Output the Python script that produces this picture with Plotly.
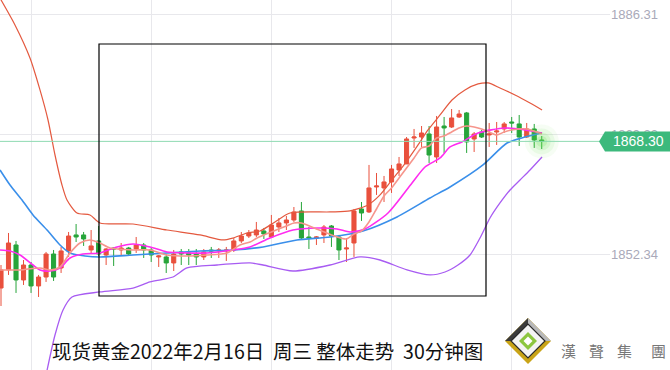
import plotly.graph_objects as go

# ---------------- data ----------------
candle_open = [1847.52, 1850.08, 1853.62, 1848.66, 1850.78, 1847.81, 1849.08, 1852.34, 1850.36, 1852.77,
               1855.04, 1855.04, 1852.91, 1854.19, 1852.20, 1853.19, 1852.91, 1853.19, 1853.05, 1853.62,
               1852.91, 1851.92, 1851.92, 1851.07, 1852.63, 1852.49, 1852.34, 1851.92, 1852.91, 1852.77,
               1852.77, 1852.91, 1854.19, 1854.89, 1855.04, 1855.60, 1854.75, 1856.17, 1856.74, 1857.16,
               1858.44, 1854.75, 1854.61, 1855.04, 1856.31, 1854.75, 1853.05, 1853.90, 1858.72, 1858.30,
               1861.84, 1861.70, 1862.55, 1864.25, 1865.10, 1868.78, 1868.92, 1869.35, 1866.09, 1870.48,
               1870.34, 1871.76, 1872.33, 1868.64, 1869.63, 1869.21, 1869.63, 1870.06, 1871.05, 1870.77,
               1868.92, 1870.06, 1868.50]
candle_high = [1850.78, 1855.32, 1854.19, 1851.49, 1851.21, 1849.37, 1852.63, 1852.91, 1853.34, 1855.46,
               1856.59, 1855.46, 1855.74, 1856.31, 1853.19, 1853.25, 1853.90, 1853.34, 1854.75, 1853.90,
               1853.19, 1852.20, 1852.34, 1852.91, 1853.05, 1853.05, 1853.05, 1853.05, 1853.34, 1853.19,
               1853.34, 1854.61, 1855.46, 1855.74, 1856.88, 1856.03, 1857.87, 1857.44, 1857.73, 1859.00,
               1859.71, 1856.17, 1854.89, 1856.45, 1856.45, 1855.04, 1854.61, 1858.72, 1859.71, 1864.96,
               1863.82, 1863.40, 1864.96, 1866.09, 1868.92, 1870.06, 1870.48, 1870.48, 1871.90, 1871.76,
               1872.89, 1872.75, 1872.47, 1869.63, 1869.92, 1870.91, 1871.05, 1871.05, 1871.76, 1872.04,
               1870.91, 1870.77, 1869.07]
candle_low = [1844.97, 1849.37, 1846.82, 1847.95, 1846.82, 1846.25, 1848.38, 1848.52, 1849.65, 1851.92,
              1854.04, 1853.48, 1852.34, 1852.06, 1850.78, 1850.64, 1852.20, 1852.20, 1852.49, 1851.78,
              1851.21, 1850.50, 1849.65, 1849.93, 1850.78, 1850.78, 1850.78, 1851.49, 1851.78, 1851.78,
              1851.35, 1852.63, 1853.90, 1854.61, 1854.75, 1854.47, 1854.61, 1855.46, 1855.74, 1856.88,
              1854.33, 1853.05, 1853.62, 1853.90, 1853.34, 1851.49, 1851.21, 1851.92, 1857.02, 1858.15,
              1860.71, 1859.71, 1860.99, 1863.40, 1865.10, 1867.37, 1867.51, 1865.24, 1865.24, 1866.66,
              1870.20, 1871.62, 1866.66, 1866.80, 1868.78, 1867.51, 1867.79, 1869.49, 1869.49, 1867.65,
              1868.78, 1867.37, 1867.22]
candle_close = [1850.08, 1853.90, 1848.66, 1850.78, 1847.81, 1849.08, 1852.34, 1849.08, 1852.77, 1854.89,
                1854.75, 1854.47, 1853.48, 1852.34, 1853.05, 1853.05, 1853.19, 1852.34, 1853.62, 1852.91,
                1852.20, 1852.06, 1851.07, 1852.34, 1852.34, 1852.20, 1851.92, 1852.63, 1852.77, 1852.91,
                1852.91, 1854.19, 1854.89, 1855.32, 1855.74, 1855.18, 1856.45, 1856.74, 1857.16, 1858.30,
                1854.61, 1854.61, 1854.75, 1856.17, 1854.89, 1852.91, 1853.19, 1858.44, 1858.15, 1861.70,
                1861.98, 1862.55, 1864.39, 1865.10, 1868.64, 1868.92, 1869.49, 1866.37, 1870.34, 1870.20,
                1871.62, 1872.18, 1868.22, 1869.35, 1868.92, 1869.35, 1869.77, 1870.77, 1870.91, 1868.92,
                1870.06, 1868.50, 1868.30]
candle_idx = list(range(len(candle_close)))

# Bollinger upper band
boll_up_x = [-0.13, 1.86, 3.86, 5.19, 6.26, 7.19, 8.12, 8.79, 10.12, 11.85, 13.18, 17.58, 22.10, 26.50,
             29.56, 30.89, 32.76, 34.49, 36.48, 38.48, 43.81, 46.47, 48.87, 50.47, 52.06, 53.66, 55.26,
             56.86, 58.46, 60.05, 61.78, 63.52, 64.85, 66.44, 68.44, 70.44, 72.04]
boll_up_y = [1888.60, 1884.80, 1880.12, 1875.59, 1871.33, 1866.37, 1862.12, 1859.99, 1858.15, 1857.87,
             1856.74, 1856.59, 1855.74, 1855.04, 1854.33, 1854.61, 1855.32, 1855.60, 1856.88, 1858.15,
             1858.30, 1858.44, 1859.29, 1860.71, 1862.83, 1864.96, 1867.37, 1869.92, 1872.04, 1874.17,
             1875.59, 1876.44, 1876.58, 1875.87, 1874.88, 1873.74, 1872.75]
# Bollinger lower band
boll_dn_x = [5.86, 7.19, 8.26, 9.45, 13.18, 17.58, 19.84, 22.90, 24.77, 28.76, 33.16, 34.89, 38.88, 43.81,
             47.80, 50.47, 54.06, 57.12, 59.12, 60.85, 62.45, 63.78, 65.11, 66.44, 67.78, 69.11, 70.44, 72.04]
boll_dn_y = [1834.49, 1840.86, 1844.41, 1846.25, 1846.96, 1847.52, 1848.38, 1849.08, 1850.36, 1850.78,
             1851.07, 1850.78, 1849.93, 1850.78, 1851.92, 1851.49, 1850.08, 1849.37, 1849.79, 1850.78,
             1852.20, 1854.61, 1857.44, 1859.57, 1861.41, 1862.83, 1864.25, 1866.09]
# Bollinger middle (blue)
boll_mid_x = [-0.13, 1.20, 2.80, 4.26, 6.13, 7.86, 9.19, 11.19, 13.18, 17.58, 22.10, 26.50, 30.89, 34.89,
              39.41, 43.81, 48.20, 52.73, 57.12, 59.79, 64.18, 67.38, 69.77, 72.04]
boll_mid_y = [1864.25, 1862.12, 1859.99, 1857.87, 1855.74, 1853.62, 1852.49, 1852.06, 1851.92, 1852.20,
              1852.49, 1852.77, 1852.91, 1853.34, 1854.33, 1854.75, 1855.60, 1857.59, 1860.28, 1861.84,
              1864.96, 1868.07, 1868.92, 1869.49]
# MA10 (magenta)
ma10_x = [-0.13, 1.20, 2.53, 4.26, 5.19, 6.52, 7.86, 9.19, 10.92, 13.18, 15.45, 17.58, 19.84, 22.10, 24.77,
          27.43, 30.89, 33.16, 35.82, 38.88, 42.08, 44.74, 46.47, 48.47, 51.53, 54.73, 56.46, 58.46, 59.79,
          61.38, 63.52, 67.11, 69.77, 72.04]
ma10_y = [1852.91, 1852.77, 1852.20, 1850.78, 1850.08, 1849.93, 1850.36, 1851.78, 1852.34, 1852.49, 1853.34,
          1853.76, 1853.34, 1852.63, 1852.49, 1852.49, 1852.91, 1853.34, 1854.61, 1855.74, 1856.03, 1855.89,
          1855.46, 1855.89, 1858.15, 1862.41, 1864.67, 1865.95, 1867.51, 1868.22, 1869.49, 1870.20, 1869.92,
          1869.49]
# MA5 (salmon)
ma5_x = [-0.13, 2.53, 5.19, 6.52, 7.86, 9.19, 10.52, 11.85, 13.18, 14.51, 17.58, 19.84, 22.10, 24.77, 27.43,
         30.09, 31.82, 33.16, 34.09, 36, 38, 39, 40, 42, 44, 46, 47, 48, 49, 50, 51, 52, 53, 54, 55, 56, 57,
         58, 59, 60, 61, 62, 63, 64, 65, 66, 67, 68, 70, 71, 72]
ma5_y = [1850.08, 1850.08, 1850.36, 1850.08, 1850.50, 1852.49, 1853.90, 1854.33, 1853.90, 1853.19, 1852.91,
         1852.91, 1852.20, 1852.06, 1852.20, 1852.49, 1853.62, 1854.04, 1854.61, 1855.46, 1856.31, 1856.74,
         1856.74, 1855.89, 1855.04, 1854.47, 1855.18, 1855.60, 1856.88, 1858.72, 1860.56, 1861.70, 1863.11,
         1864.53, 1865.95, 1867.37, 1867.65, 1868.78, 1869.07, 1869.63, 1870.20, 1870.48, 1870.34, 1870.06,
         1869.63, 1869.21, 1869.63, 1869.92, 1870.06, 1869.77, 1869.35]

price_ticks = [1852.34, 1869.33, 1886.31]
price_tick_text = ["1852.34", "1869.33", "1886.31"]
last_price = 1868.30
title_text = "现货黄金2022年2月16日  周三 整体走势  30分钟图"
logo_chars = ["漢", "聲", "集", "團"]

# ---------------- figure ----------------
W, H = 670, 370
PLOT_W = 610
fig = go.Figure()

line_specs = [
    (boll_up_x, boll_up_y, "#e4593f", 1.2),
    (boll_dn_x, boll_dn_y, "#a85cf2", 1.3),
    (boll_mid_x, boll_mid_y, "#3a8fea", 1.6),
    (ma10_x, ma10_y, "#ff2cf0", 1.6),
    (ma5_x, ma5_y, "#f6958c", 1.6),
]
for xs, ys, col, w in line_specs:
    fig.add_trace(go.Scatter(x=xs, y=ys, mode="lines",
                             line=dict(color=col, width=w, shape="spline", smoothing=0.7),
                             hoverinfo="skip"))

fig.add_trace(go.Candlestick(
    x=candle_idx, open=candle_open, high=candle_high, low=candle_low, close=candle_close,
    increasing=dict(line=dict(color="#e9503d", width=1), fillcolor="#e9503d"),
    decreasing=dict(line=dict(color="#27a53a", width=1), fillcolor="#27a53a"),
    whiskerwidth=0,
))

# glow on the last candle
for sz, op in [(34, 0.06), (26, 0.09), (18, 0.13), (11, 0.18)]:
    fig.add_trace(go.Scatter(x=[candle_idx[-1]], y=[candle_close[-1]], mode="markers",
                             marker=dict(size=sz, color=f"rgba(95,225,70,{op})", line=dict(width=0)),
                             hoverinfo="skip"))

shapes = []
# current price line
shapes.append(dict(type="line", xref="paper", yref="y", x0=0, x1=0.985, y0=last_price, y1=last_price,
                   line=dict(color="#8fdab2", width=1), layer="above"))
# annotation rectangle
shapes.append(dict(type="rect", xref="paper", yref="paper",
                   x0=99 / PLOT_W, x1=486 / PLOT_W, y0=1 - 296 / H, y1=1 - 44 / H,
                   line=dict(color="#000000", width=1.2), fillcolor="rgba(0,0,0,0)", layer="above"))
# price tag
shapes.append(dict(type="path", xref="paper", yref="y", xsizemode="pixel", ysizemode="pixel",
                   xanchor=1, yanchor=last_price,
                   path="M -11,0 L -5,10 L 60,10 L 60,-10 L -5,-10 Z",
                   fillcolor="#3cb97c", line=dict(width=0), layer="above"))

# logo diamond
cx, cy = 528 / PLOT_W, 1 - 341 / H
def diamond(r, fill, lw=0, lc="rgba(0,0,0,0)"):
    return dict(type="path", xref="paper", yref="paper", xsizemode="pixel", ysizemode="pixel",
                xanchor=cx, yanchor=cy, path=f"M {-r},0 L 0,{r} L {r},0 L 0,{-r} Z",
                fillcolor=fill, line=dict(width=lw, color=lc), layer="above")
shapes.append(diamond(23, "#c9a417"))
shapes.append(dict(type="path", xref="paper", yref="paper", xsizemode="pixel", ysizemode="pixel",
                   xanchor=cx, yanchor=cy, path="M -23,0 L 0,23 L 0,17 L -17,0 Z",
                   fillcolor="#3b3b3b", line=dict(width=0), layer="above"))
shapes.append(dict(type="path", xref="paper", yref="paper", xsizemode="pixel", ysizemode="pixel",
                   xanchor=cx, yanchor=cy, path="M 0,23 L 23,0 L 17,0 L 0,17 Z",
                   fillcolor="#b9b9b9", line=dict(width=0), layer="above"))
shapes.append(diamond(17, "#f4f4f4", 1.2, "#2a2a2a"))
shapes.append(diamond(9, "#8cc63f"))
shapes.append(diamond(4.5, "#ffffff"))

annotations = [
    dict(xref="paper", yref="y", x=1, xshift=28, y=last_price, text=f"{last_price:.2f}",
         showarrow=False, font=dict(family="Liberation Sans, Arial, sans-serif", size=14, color="#ffffff"),
         xanchor="center", yanchor="middle"),
    dict(xref="paper", yref="paper", x=50 / PLOT_W, y=1 - 350 / H, text=title_text, showarrow=False,
         xanchor="left", yanchor="middle",
         font=dict(family="Noto Sans CJK SC, sans-serif", size=19.5, color="#111111")),
]
char_px = [568, 596, 624, 658]
for ch, px in zip(logo_chars, char_px):
    annotations.append(dict(xref="paper", yref="paper", x=px / PLOT_W, y=1 - 350 / H, text=ch,
                            showarrow=False, xanchor="center", yanchor="middle",
                            font=dict(family="Noto Sans CJK TC, sans-serif", size=15, color="#777777")))

fig.update_layout(
    width=W, height=H, margin=dict(l=0, r=W - PLOT_W, t=0, b=0),
    paper_bgcolor="#ffffff", plot_bgcolor="#ffffff", showlegend=False,
    boxgap=0.22,
    shapes=shapes, annotations=annotations,
    xaxis=dict(range=[-0.133, 81.09], showticklabels=False, ticks="", tick0=4, dtick=16,
               showgrid=True, gridcolor="#e8e8ec", gridwidth=1, zeroline=False,
               rangeslider=dict(visible=False), fixedrange=True, showline=False),
    yaxis=dict(range=[1835.90, 1888.337], side="right", tickvals=price_ticks, ticktext=price_tick_text,
               showgrid=True, gridcolor="#e8e8ec", gridwidth=1, zeroline=False, ticks="",
               tickfont=dict(family="Liberation Sans, Arial, sans-serif", size=13, color="#a9a9b9"),
               fixedrange=True, showline=False),
)

fig.write_html("out.html", config={"displayModeBar": False},
               post_script="document.body.style.margin='0';document.body.style.overflow='hidden';")
